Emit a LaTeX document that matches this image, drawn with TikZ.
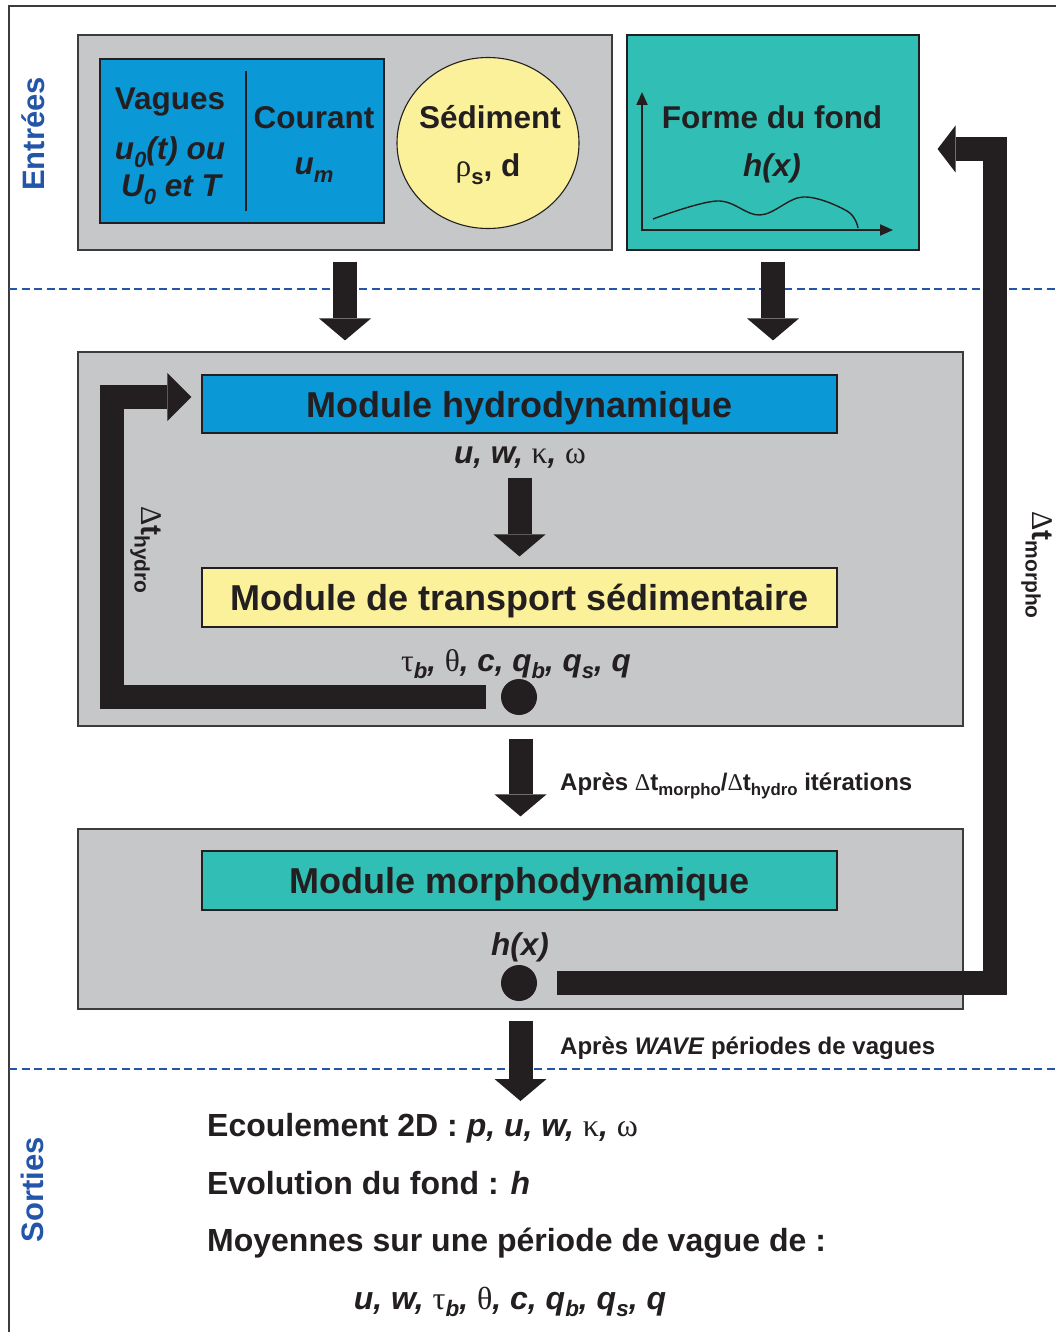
\documentclass[tikz,border=0pt]{standalone}
\usepackage{fontspec}
\setmainfont{Liberation Sans}
\newfontfamily\grk{Liberation Serif}
\usepackage{graphicx}
\usetikzlibrary{arrows.meta,calc,shapes.geometric}

\definecolor{inkblack}{HTML}{231F20}
\definecolor{panelgray}{HTML}{C6C7C9}
\definecolor{hydroblue}{HTML}{0A98D6}
\definecolor{sandyellow}{HTML}{FBF19B}
\definecolor{morphoteal}{HTML}{31BEB4}
\definecolor{labelblue}{HTML}{2356A8}
\definecolor{framegray}{HTML}{3C3C3C}

% lowered, reduced index
\newcommand\lowsub[1]{\raisebox{-0.24em}{\scalebox{0.7}{#1}}}
% upright serif greek letters
\newcommand\gk[1]{{\grk\mdseries\upshape #1}}

\begin{document}
\begin{tikzpicture}[x=1pt,y=-1pt,
  frameline/.style={draw=framegray, line width=1.5pt},
  stagesep/.style={draw=labelblue, line width=1.5pt, dash pattern=on 8pt off 4.5pt},
  stagelabel/.style={font=\fontsize{31}{36}\selectfont\bfseries, text=labelblue, inner sep=0pt},
  panel/.style={rectangle, draw=framegray, line width=1.2pt, fill=panelgray, inner sep=0pt},
  box/.style={rectangle, draw=inkblack, line width=1.1pt, inner sep=0pt},
  module/.style={box, minimum width=635pt, minimum height=58pt, text depth=0pt,
    font=\fontsize{36}{40}\selectfont\bfseries, text=inkblack},
  lbl/.style={font=\fontsize{31.5}{36}\selectfont\bfseries, text=inkblack, inner sep=0pt},
  dtlabel/.style={font=\fontsize{30}{34}\selectfont\bfseries, text=inkblack, inner sep=0pt},
  steplabel/.style={font=\fontsize{24}{28}\selectfont\bfseries, text=inkblack, inner sep=0pt},
  outtext/.style={font=\fontsize{32}{36}\selectfont\bfseries, text=inkblack, inner sep=0pt},
  downflow/.style={draw=inkblack, line width=24pt,
    -{Triangle[width=52pt,length=22pt,line width=0pt]}},
  loopflow/.style={draw=inkblack, line width=24pt, line join=miter},
  dot/.style={circle, fill=inkblack, minimum size=36pt, inner sep=0pt}
]
\useasboundingbox (0,0) rectangle (1056,1332);
\fill[white] (0,0) rectangle (1056,1332);

% outer frame and stage separators
\draw[frameline] (1056,6) -- (9,6) -- (9,1332);
\draw[stagesep] (9,289) -- (1056,289);
\draw[stagesep] (9,1069) -- (1056,1069);

\node[stagelabel, rotate=90] (entrees) at (33,134) {Entrées};
\node[stagelabel, rotate=90] (sorties) at (32,1190) {Sorties};

% ---- inputs ----
\node[panel, minimum width=534pt, minimum height=215pt] (inputs) at (345,142.5) {};
\node[box, fill=hydroblue, minimum width=284pt, minimum height=164pt] (forcing) at (242,141) {};
\draw[inkblack, line width=1.3pt] (246,71) -- (246,211);
\node[lbl, anchor=base] (vagues) at (170,110) {Vagues};
\node[lbl, anchor=base] (uzero) at (170,160) {\textit{u\lowsub{0}(t) ou}};
\node[lbl, anchor=base] (Uzero) at (172,197) {\textit{U\lowsub{0} et T}};
\node[lbl, anchor=base] (courant) at (314,129) {Courant};
\node[lbl, anchor=base] (umean) at (314,175) {\textit{u\lowsub{m}}};

\node[ellipse, draw=inkblack, line width=1.1pt, fill=sandyellow,
  minimum width=182pt, minimum height=171pt, inner sep=0pt] (sediment) at (488,143) {};
\node[lbl, anchor=base] (sedname) at (490,129) {Sédiment};
\node[lbl, anchor=base] (sedvars) at (488,177) {\gk{ρ}\lowsub{s}, d};

\node[box, fill=morphoteal, minimum width=292pt, minimum height=215pt] (fond) at (773,142.5) {};
\node[lbl, anchor=base] (fondname) at (772,129) {Forme du fond};
\node[lbl, anchor=base] (fondvar) at (772,177) {\textit{h(x)}};
\draw[inkblack, line width=2pt, {Triangle[width=11pt,length=13pt]}-{Triangle[width=11pt,length=13pt]}]
  (642,92) -- (642,230) -- (893,230);
\draw[inkblack, line width=1.4pt] plot[smooth, tension=0.6]
  coordinates {(653,219) (717,201) (760,215) (803,197) (847,211) (858,228)};

% ---- coupled hydro / transport loop ----
\node[panel, minimum width=885pt, minimum height=374pt] (main) at (520.5,539) {};
\node[module, fill=hydroblue] (hydro) at (519.5,404) {Module hydrodynamique};
\node[lbl, anchor=base] (hydroout) at (520,463) {\textit{u, w,} \gk{κ}\textit{,} \gk{ω}};
\node[module, fill=sandyellow, minimum height=59pt] (transport) at (519.5,597.5) {Module de transport sédimentaire};
\node[lbl, anchor=base] (transout) at (516,671)
  {\gk{τ}\lowsub{\textit{b}}\textit{,} \gk{θ}\textit{, c, q\lowsub{b}, q\lowsub{s}, q}};
\node[dot] (tdot) at (519,697) {};
\node[dtlabel, rotate=-90] (dthydro) at (146,550) {\gk{Δ}t\lowsub{hydro}};

% ---- morphodynamics ----
\node[panel, minimum width=885pt, minimum height=180pt] (morphopanel) at (520.5,919) {};
\node[module, fill=morphoteal, minimum height=59pt] (morpho) at (519.5,880.5) {Module morphodynamique};
\node[lbl, anchor=base] (morphout) at (520,955) {\textit{h(x)}};
\node[dot] (mdot) at (519,983) {};
\node[dtlabel, rotate=-90] (dtmorpho) at (1037,565) {\gk{Δ}t\lowsub{morpho}};

% ---- flow arrows ----
\draw[downflow, shorten <=11pt, shorten >=11pt] (inputs.south) -- (inputs.south |- main.north);
\draw[downflow, shorten <=11pt, shorten >=11pt] (fond.south) -- (fond.south |- main.north);
\draw[downflow, shorten <=44pt, shorten >=11pt] (hydro.south) -- (transport.north);
\draw[downflow, shorten <=12pt, shorten >=12pt] (main.south) -- (morphopanel.north);
\coordinate (outtop) at (520.5,1101);
\draw[downflow, shorten <=11pt] (morphopanel.south) -- (outtop);

\node[steplabel, anchor=base west] (apres1) at (560,790)
  {Après \gk{Δ}t\lowsub{morpho}/\gk{Δ}t\lowsub{hydro} itérations};
\node[steplabel, anchor=base west] (apres2) at (560,1054)
  {Après \textit{WAVE} périodes de vagues};

% feedback loops
\coordinate (hcorner) at (112,397);
\draw[loopflow, shorten >=10pt, -{Triangle[width=48pt,length=24pt,line width=0pt]}]
  ([xshift=-15pt]tdot.west) -| (hcorner) -- (hcorner -| hydro.west);
\coordinate (mcorner) at (995,149);
\draw[loopflow, shorten >=18pt, -{Triangle[width=47pt,length=18pt,line width=0pt]}]
  ([xshift=20pt]mdot.east) -| (mcorner) -- (mcorner -| fond.east);

% ---- outputs ----
\node[outtext, anchor=base west] (ecoul) at (207,1136)
  {Ecoulement 2D : \textit{p, u, w,} \gk{κ}\textit{,} \gk{ω}};
\node[outtext, anchor=base west] (evol) at (207,1194) {Evolution du fond : \textit{h}};
\node[outtext, anchor=base west] (moy) at (207,1251) {Moyennes sur une période de vague de :};
\node[outtext, anchor=base] (moyvars) at (510,1309)
  {\textit{u, w,} \gk{τ}\lowsub{\textit{b}}\textit{,} \gk{θ}\textit{, c, q\lowsub{b}, q\lowsub{s}, q}};
\end{tikzpicture}
\end{document}
